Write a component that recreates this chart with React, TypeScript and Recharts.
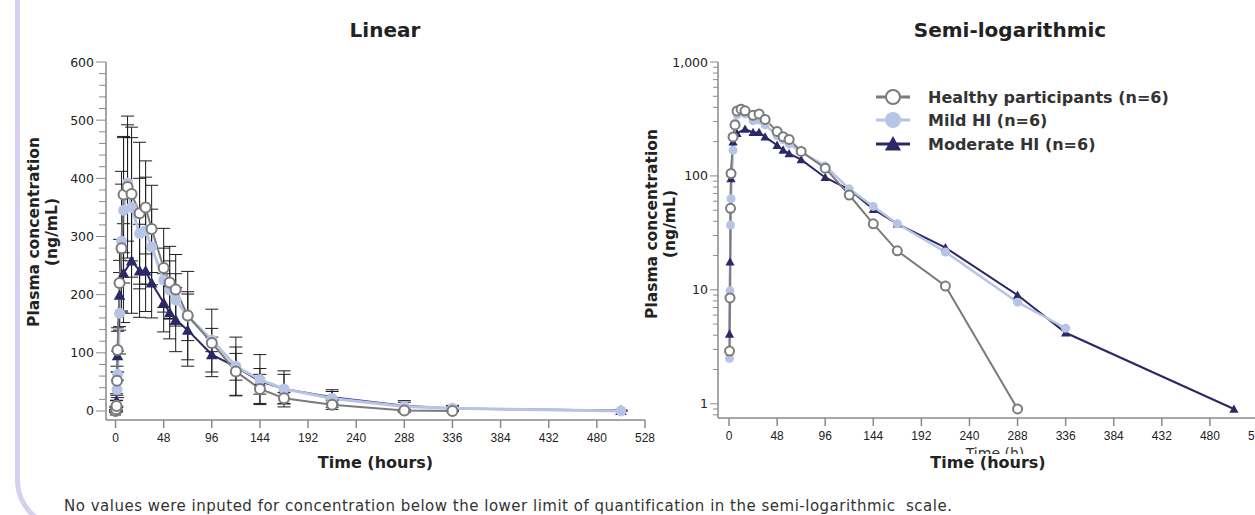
import React from "react";
import { ErrorBar, Label, Legend, Line, LineChart, XAxis, YAxis } from "recharts";

// sampling times (hours) shared by all groups
const hours = [0, 0.5, 1, 1.5, 2, 4, 6, 8, 12, 16, 24, 30, 36, 48, 54, 60, 72, 96, 120, 144, 168, 216, 288, 336, 504];

// mean plasma concentration (ng/mL) and SD per group, null = not sampled / not shown
const healthy = [0, 2.9, 8.5, 52, 105, 220, 280, 372, 385, 373, 340, 350, 313, 246, 221, 209, 164, 117, 68, 38, 22, 10.8, 0.9, 0, null];
const healthySd = [2, 4, 10, 25, 38, 75, 110, 100, 122, 115, 122, 80, 75, 68, 62, 60, 76, 58, 42, 25, 10, 8, 1.5, 1, null];
const mild = [0, 2.5, 9.8, 37, 63, 168, 292, 345, 392, 350, 305, 310, 282, 225, 208, 191, 163, 122, 77, 54, 38, 21.5, 7.8, 4.6, 0];
const mildSd = [2, 3, 8, 30, 40, 70, 120, 125, 100, 120, 95, 92, 65, 55, 50, 45, 42, 20, 50, 43, 31, 15, 10, 5, 1];
const moderate = [0, 4.1, 17.6, null, 95, 199, null, 237, null, 258, 241, 241, 220, 186, 169, 157, 139, 97, 76, 51, 38, 23.5, 9, 4.2, 0.9];
const moderateSd = [2, 4, 12, null, 42, 60, null, 85, null, 90, 80, 70, 60, 50, 45, 55, 62, 30, 23, 22, 25, 10, 6, 4, 1];

const seriesNames = ["Healthy participants (n=6)", "Mild HI (n=6)", "Moderate HI (n=6)"];
const xTicks = [0, 48, 96, 144, 192, 240, 288, 336, 384, 432, 480, 528];
const linMajor = [0, 100, 200, 300, 400, 500, 600];
const logMajor = [1, 10, 100, 1000];

const linYTicks = linMajor.flatMap((v) => (v === 600 ? [v] : [v, v + 20, v + 40, v + 60, v + 80]));
const logYTicks = [0.8, 0.9, ...[1, 10, 100].flatMap((d) => [1, 2, 3, 4, 5, 6, 7, 8, 9].map((m) => m * d)), 1000];

const FONT = '"DejaVu Sans", Verdana, sans-serif';
const TICK_FONT = '"Liberation Sans", Arial, sans-serif';
const AXIS = "#8a8a8a";
const INK = "#222";
const C = { healthy: "#7b7b7b", mild: "#b6c5e5", moderate: "#2b2868" };

type Kind = "healthy" | "mild" | "moderate";

const toPoints = (vals: (number | null)[], sds: (number | null)[]) =>
  hours.flatMap((t, i) => (vals[i] == null ? [] : [{ t, v: vals[i], sd: sds[i] }]));
const toLogPoints = (vals: (number | null)[]) =>
  hours.flatMap((t, i) => (vals[i] == null || (vals[i] as number) <= 0 ? [] : [{ t, v: vals[i] }]));

function Marker({ kind, cx, cy, size }: { kind: Kind; cx: number; cy: number; size: number }) {
  if (kind === "healthy")
    return <circle cx={cx} cy={cy} r={size} fill="#fff" stroke={C.healthy} strokeWidth={2} />;
  if (kind === "mild") return <circle cx={cx} cy={cy} r={size} fill={C.mild} />;
  const s = size * 1.15;
  return <path d={`M${cx},${cy - s}L${cx + s},${cy + s * 0.8}L${cx - s},${cy + s * 0.8}Z`} fill={C.moderate} />;
}

const dots = (kind: Kind, size: number) => (p: any) => {
  if (p.cx == null || p.cy == null) return <g key={`e${p.index}`} />;
  return <Marker key={`m${p.index}`} kind={kind} cx={p.cx} cy={p.cy} size={size} />;
};

const LinYTick = ({ x, y, payload }: any) => {
  const major = payload.value % 100 === 0;
  return (
    <g>
      <line x1={x - (major ? 10 : 7)} x2={x} y1={y} y2={y} stroke={AXIS} />
      {major && (
        <text x={x - 12} y={y} dy="0.36em" textAnchor="end" fontSize={12.5} fontFamily={FONT} fill={INK}>
          {payload.value}
        </text>
      )}
    </g>
  );
};

const LogYTick = ({ x, y, payload }: any) => {
  const major = logMajor.includes(payload.value);
  return (
    <g>
      <line x1={x - (major ? 8 : 5)} x2={x} y1={y} y2={y} stroke={AXIS} />
      {major && (
        <text x={x - 10} y={y} dy="0.36em" textAnchor="end" fontSize={12.5} fontFamily={FONT} fill={INK}>
          {payload.value.toLocaleString("en-US")}
        </text>
      )}
    </g>
  );
};

const YTitle = ({ x1, x2, cy }: { x1: number; x2: number; cy: number }) => (
  <g fontFamily={FONT} fontWeight="bold" fontSize={15.5} fill={INK} textAnchor="middle">
    <text x={x1} y={cy} transform={`rotate(-90 ${x1} ${cy})`}>Plasma concentration</text>
    <text x={x2} y={cy} transform={`rotate(-90 ${x2} ${cy})`}>(ng/mL)</text>
  </g>
);

const XTitle = ({ cx, y }: { cx: number; y: number }) => (
  <text x={cx} y={y} textAnchor="middle" fontFamily={FONT} fontWeight="bold" fontSize={16} fill={INK}>
    Time (hours)
  </text>
);

const LegendBox = () => (
  <div style={{ fontFamily: FONT, fontWeight: "bold", fontSize: 16, color: "#333" }}>
    {seriesNames.map((name, i) => {
      const kind: Kind = (["healthy", "mild", "moderate"] as Kind[])[i];
      return (
        <div key={name} style={{ display: "flex", alignItems: "center", height: i === 0 ? 22 : 24 }}>
          <svg width={52} height={22} style={{ flex: "none" }}>
            <line x1={0} x2={34} y1={11} y2={11} stroke={C[kind]} strokeWidth={3} />
            <Marker kind={kind} cx={17} cy={11} size={kind === "mild" ? 8 : 7} />
          </svg>
          <span style={{ whiteSpace: "nowrap" }}>{name}</span>
        </div>
      );
    })}
  </div>
);

const linH = toPoints(healthy, healthySd);
const linMi = toPoints(mild, mildSd);
const linMo = toPoints(moderate, moderateSd);
const logH = toLogPoints(healthy);
const logMi = toLogPoints(mild);
const logMo = toLogPoints(moderate);

export default function App() {
  return (
    <div style={{ position: "absolute", left: 0, top: 0, width: 1255, height: 515, overflow: "hidden", background: "#fff" }}>
      <div
        style={{
          position: "absolute", left: 15, top: -50, width: 1400, height: 575,
          borderLeft: "5px solid #d6cff0", borderBottom: "5px solid #d6cff0", borderBottomLeftRadius: 50,
        }}
      />
      <div style={{ position: "absolute", left: 285, top: 18, width: 200, textAlign: "center", fontFamily: FONT, fontWeight: "bold", fontSize: 20, color: INK }}>
        Linear
      </div>
      <div style={{ position: "absolute", left: 860, top: 18, width: 300, textAlign: "center", fontFamily: FONT, fontWeight: "bold", fontSize: 20, color: INK }}>
        Semi-logarithmic
      </div>

      <div style={{ position: "absolute", left: 0, top: 0 }}>
        <LineChart width={660} height={480} margin={{ top: 62, right: 15, bottom: 10, left: 56 }}>
          <XAxis
            type="number" dataKey="t" domain={[-9.5, 528]} ticks={xTicks} interval={0} allowDataOverflow
            height={50} tickSize={8} tickMargin={5} stroke={AXIS} strokeWidth={1.5}
            tick={{ fill: INK, fontSize: 12, fontFamily: TICK_FONT }}
          >
            <Label content={() => <XTitle cx={375.5} y={468} />} />
          </XAxis>
          <YAxis
            type="number" domain={[-15.5, 600]} ticks={linYTicks} interval={0} allowDataOverflow
            width={50} tickSize={0} tickMargin={0} tickLine={false} stroke={AXIS} strokeWidth={1.5}
            tick={<LinYTick />}
          >
            <Label content={() => <YTitle x1={38.5} x2={57} cy={232} />} />
          </YAxis>
          <Line data={linMo} dataKey="v" stroke={C.moderate} strokeWidth={2} dot={dots("moderate", 5)} activeDot={false} isAnimationActive={false}>
            <ErrorBar dataKey="sd" width={6.5} stroke="#1e1e1e" strokeWidth={1} direction="y" />
          </Line>
          <Line data={linMi} dataKey="v" stroke={C.mild} strokeWidth={3} dot={dots("mild", 5.5)} activeDot={false} isAnimationActive={false}>
            <ErrorBar dataKey="sd" width={6.5} stroke="#1e1e1e" strokeWidth={1} direction="y" />
          </Line>
          <Line data={linH} dataKey="v" stroke={C.healthy} strokeWidth={2} dot={dots("healthy", 5)} activeDot={false} isAnimationActive={false}>
            <ErrorBar dataKey="sd" width={6.5} stroke="#1e1e1e" strokeWidth={1} direction="y" />
          </Line>
        </LineChart>
      </div>

      <div style={{ position: "absolute", left: 630, top: 0 }}>
        <LineChart width={650} height={480} margin={{ top: 62, right: 22, bottom: 12, left: 38 }}>
          <XAxis
            type="number" dataKey="t" domain={[-11, 528]} ticks={xTicks} interval={0} allowDataOverflow
            height={50} tickSize={8} tickMargin={5} stroke={AXIS} strokeWidth={1.5}
            tick={{ fill: INK, fontSize: 12, fontFamily: TICK_FONT }}
          >
            <Label
              content={() => (
                <g>
                  <text x={365} y={458} textAnchor="middle" fontFamily={FONT} fontSize={14} fill="#333">Time (h)</text>
                  <rect x={280} y={454} width={170} height={26} fill="#fff" />
                  <XTitle cx={358} y={468} />
                </g>
              )}
            />
          </XAxis>
          <YAxis
            type="number" scale="log" domain={[0.75, 1000]} ticks={logYTicks} interval={0} allowDataOverflow
            width={50} tickSize={0} tickMargin={0} tickLine={false} stroke={AXIS} strokeWidth={1.5}
            tick={<LogYTick />}
          >
            <Label content={() => <YTitle x1={27} x2={45} cy={224} />} />
          </YAxis>
          <Legend layout="vertical" align="center" verticalAlign="middle" content={<LegendBox />} wrapperStyle={{ left: 246, top: 86, width: 330 }} />
          <Line data={logMo} dataKey="v" stroke={C.moderate} strokeWidth={2} dot={dots("moderate", 4)} activeDot={false} isAnimationActive={false} />
          <Line data={logMi} dataKey="v" stroke={C.mild} strokeWidth={2.5} dot={dots("mild", 4.5)} activeDot={false} isAnimationActive={false} />
          <Line data={logH} dataKey="v" stroke={C.healthy} strokeWidth={2} dot={dots("healthy", 4.5)} activeDot={false} isAnimationActive={false} />
        </LineChart>
      </div>

      <div style={{ position: "absolute", left: 64, top: 497, fontFamily: FONT, fontSize: 15, letterSpacing: 0.5, color: "#333", whiteSpace: "pre" }}>
        No values were inputed for concentration below the lower limit of quantification in the semi-logarithmic  scale.
      </div>
    </div>
  );
}
